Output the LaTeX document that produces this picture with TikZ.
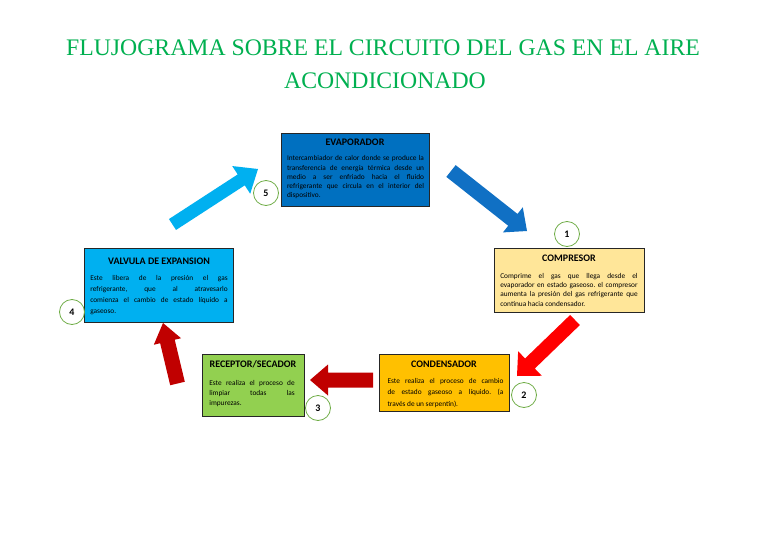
\documentclass[tikz,border=0pt]{standalone}
\usepackage{fontspec}
\setmainfont{Liberation Serif}
\newfontfamily\carl{Carlito}
\usetikzlibrary{calc,fit}
\frenchspacing
\definecolor{ttlgreen}{RGB}{0,176,80}
\definecolor{evapblue}{RGB}{0,112,192}
\definecolor{compyel}{RGB}{255,230,153}
\definecolor{valvcyan}{RGB}{0,176,240}
\definecolor{recgreen}{RGB}{146,208,80}
\definecolor{condorange}{RGB}{255,192,0}
\definecolor{numgreen}{RGB}{112,173,71}
\definecolor{darkred}{RGB}{192,0,0}
\definecolor{arrblue}{RGB}{16,112,196}
\newcommand{\blkarrow}[5]{%
  \pgfmathsetlengthmacro\bsw{#2*0.75pt}%
  \pgfmathsetlengthmacro\bhw{#3*0.75pt}%
  \pgfmathsetlengthmacro\bhl{#4*0.75pt}%
  \coordinate (#1n) at ($(#1h)!\bhl!(#1t)$);
  \fill[#5] ($(#1t)!\bsw!90:(#1h)$) -- ($(#1n)!\bsw!90:(#1h)$) -- ($(#1n)!\bhw!90:(#1h)$)
    -- (#1h) -- ($(#1n)!\bhw!-90:(#1h)$) -- ($(#1n)!\bsw!-90:(#1h)$) -- ($(#1t)!\bsw!-90:(#1h)$) -- cycle;
}
\begin{document}
\begin{tikzpicture}[x=0.75pt,y=-0.75pt,
  box/.style={draw=black!85, line width=0.6pt, inner sep=0pt},
  hd/.style={font=\carl\bfseries\fontsize{7.5}{9}\selectfont, anchor=base, inner sep=0pt},
  bd/.style={font=\carl\fontsize{5.5}{#1}\selectfont, align=justify, anchor=north, inner sep=0pt},
  num/.style={circle, draw=numgreen, fill=white, line width=0.6pt, minimum size=18.75pt, inner sep=0pt, font=\carl\bfseries\fontsize{7.5}{8}\selectfont},
  ttl/.style={font=\fontsize{17.8}{20}\selectfont, text=ttlgreen, anchor=base, inner sep=0pt}]
\useasboundingbox[fill=white] (0,0) rectangle (768,543);

% title
\node[ttl] (t1) at (383,55) {FLUJOGRAMA SOBRE EL CIRCUITO DEL GAS EN EL AIRE};
\node[ttl] (t2) at (385,88) {ACONDICIONADO};

% boxes
\node[box, fill=evapblue, fit={(281,133) (429,206)}] (evap) {};
\node[box, fill=compyel, fit={(494,248) (644,312)}] (comp) {};
\node[box, fill=valvcyan, fit={(84,248) (233,322)}] (valv) {};
\node[box, fill=recgreen, fit={(202,354) (304,416)}] (rec) {};
\node[box, fill=condorange, fit={(379,354) (509,411)}] (cond) {};

% headings
\node[hd] (evapT) at (355,145) {EVAPORADOR};
\node[hd] (compT) at (569,261) {COMPRESOR};
\node[hd] (valvT) at (159,264) {VALVULA DE EXPANSION};
\node[hd] (recT) at (253,367) {RECEPTOR/SECADOR};
\node[hd] (condT) at (444,367) {CONDENSADOR};

% bodies
\node[bd=6.9pt, text width=102.75pt] (evapB) at (355.5,155.5) {Intercambiador de calor donde se produce la\linebreak transferencia de energía térmica desde un\linebreak medio a ser enfriado hacia el fluido\linebreak refrigerante que circula en el interior del\linebreak dispositivo.};
\node[bd=6.9pt, text width=103pt] (compB) at (569,273.2) {Comprime el gas que llega desde el\linebreak evaporador en estado gaseoso. el compresor\linebreak aumenta la presión del gas refrigerante que\linebreak continua hacia condensador.};
\node[bd=8.25pt, text width=103pt] (valvB) at (159,275.3) {Este libera de la presión el gas\linebreak refrigerante, que al atravesarlo\linebreak comienza el cambio de estado líquido a\linebreak gaseoso.};
\node[bd=7.5pt, text width=64pt] (recB) at (252,380.5) {Este realiza el proceso de\linebreak limpiar todas las\linebreak impurezas.};
\node[bd=8.5pt, text width=87pt] (condB) at (445.5,378) {Este realiza el proceso de cambio\linebreak de estado gaseoso a líquido. (a\linebreak través de un serpentín).};

% block arrows
\coordinate (a1t) at (451,171); \coordinate (a1h) at (527,231);
\blkarrow{a1}{7.5}{16}{18}{arrblue}
\coordinate (a2t) at (575,320); \coordinate (a2h) at (517,376);
\blkarrow{a2}{7}{17}{18}{red}
\coordinate (a3t) at (373,380); \coordinate (a3h) at (310,380);
\blkarrow{a3}{7.5}{15.5}{18}{darkred}
\coordinate (a4t) at (177.5,383.5); \coordinate (a4h) at (163,323);
\blkarrow{a4}{7.5}{14}{19}{darkred}
\coordinate (a5t) at (172.5,224.5); \coordinate (a5h) at (258,169);
\blkarrow{a5}{6.5}{16.5}{20}{valvcyan}

% number circles
\node[num] (n1) at (567,234) {1};
\node[num] (n2) at (524,395) {2};
\node[num] (n3) at (318,408) {3};
\node[num] (n4) at (72,312) {4};
\node[num] (n5) at (266,193) {5};
\end{tikzpicture}
\end{document}
